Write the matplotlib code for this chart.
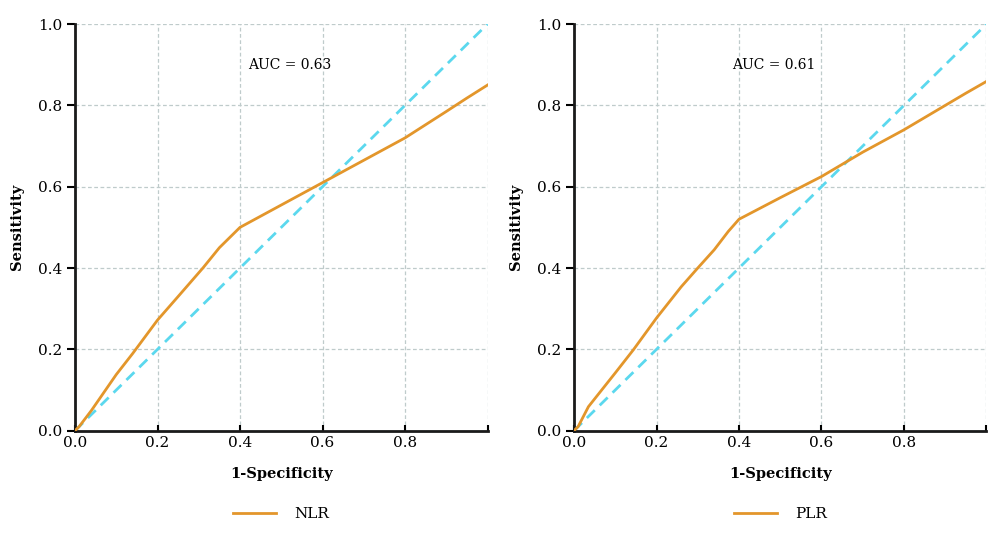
import matplotlib
matplotlib.use("Agg")
import matplotlib.pyplot as plt

plt.rcParams["font.family"] = "DejaVu Serif"

# ROC curve for NLR
nlr_fpr = [0, 0.01, 0.04, 0.1, 0.14, 0.2, 0.25, 0.31, 0.35, 0.4, 0.5, 0.6, 0.7, 0.8, 0.9, 0.95, 1.0]
nlr_tpr = [0, 0.01, 0.05, 0.138, 0.19, 0.272, 0.33, 0.40, 0.45, 0.5, 0.555, 0.61, 0.665, 0.72, 0.785, 0.818, 0.85]

# ROC curve for PLR
plr_fpr = [0, 0.01, 0.035, 0.1, 0.144, 0.2, 0.26, 0.3, 0.34, 0.374, 0.4, 0.5, 0.6, 0.7, 0.8, 0.9, 0.95, 1.0]
plr_tpr = [0, 0.01, 0.059, 0.142, 0.199, 0.277, 0.354, 0.40, 0.445, 0.49, 0.52, 0.573, 0.625, 0.685, 0.74, 0.80, 0.83, 0.859]

panels = [
    ("NLR", nlr_fpr, nlr_tpr, "AUC = 0.63", 0.42, [0.075, 0.195, 0.4125, 0.76]),
    ("PLR", plr_fpr, plr_tpr, "AUC = 0.61", 0.383, [0.574, 0.195, 0.4125, 0.76]),
]

ticks = [0.0, 0.2, 0.4, 0.6, 0.8, 1.0]
orange = "#E3962B"
cyan = "#5BD8EE"
grid_col = "#BFCBCB"

fig = plt.figure(figsize=(10, 5.35), dpi=100)

for name, fpr, tpr, auc_text, auc_x, rect in panels:
    ax = fig.add_axes(rect)
    ax.plot([0, 1], [0, 1], color=cyan, linestyle=(0, (4, 2.5)), linewidth=2, zorder=2)
    ax.plot(fpr, tpr, color=orange, linewidth=2, label=name, zorder=3)

    ax.set_xlim(0, 1)
    ax.set_ylim(0, 1)
    ax.set_xticks(ticks)
    ax.set_xticklabels(["0.0", "0.2", "0.4", "0.6", "0.8", ""])
    ax.set_yticks(ticks)
    ax.set_yticklabels(["0.0", "0.2", "0.4", "0.6", "0.8", "1.0"])
    ax.tick_params(axis="x", direction="in", length=4, width=1.5, labelsize=11, pad=4)
    ax.tick_params(axis="y", direction="out", length=6, width=1.5, labelsize=11, pad=3)

    ax.grid(True, color=grid_col, linestyle=(0, (3, 2)), linewidth=0.9)
    ax.set_axisbelow(True)

    for side in ["top", "right"]:
        ax.spines[side].set_visible(False)
    for side in ["left", "bottom"]:
        ax.spines[side].set_linewidth(2)
        ax.spines[side].set_color("#1a1a1a")

    ax.set_xlabel("1-Specificity", fontsize=10.5, fontweight="bold", labelpad=12)
    ax.set_ylabel("Sensitivity", fontsize=10.5, fontweight="bold", labelpad=10)

    ax.text(auc_x, 0.90, auc_text, fontsize=10, va="center", ha="left")

    ax.legend(loc="center", bbox_to_anchor=(0.5, -0.205), frameon=False,
              fontsize=11, handlelength=2.8, handletextpad=1.2)

fig.savefig("out.png", dpi=100)
